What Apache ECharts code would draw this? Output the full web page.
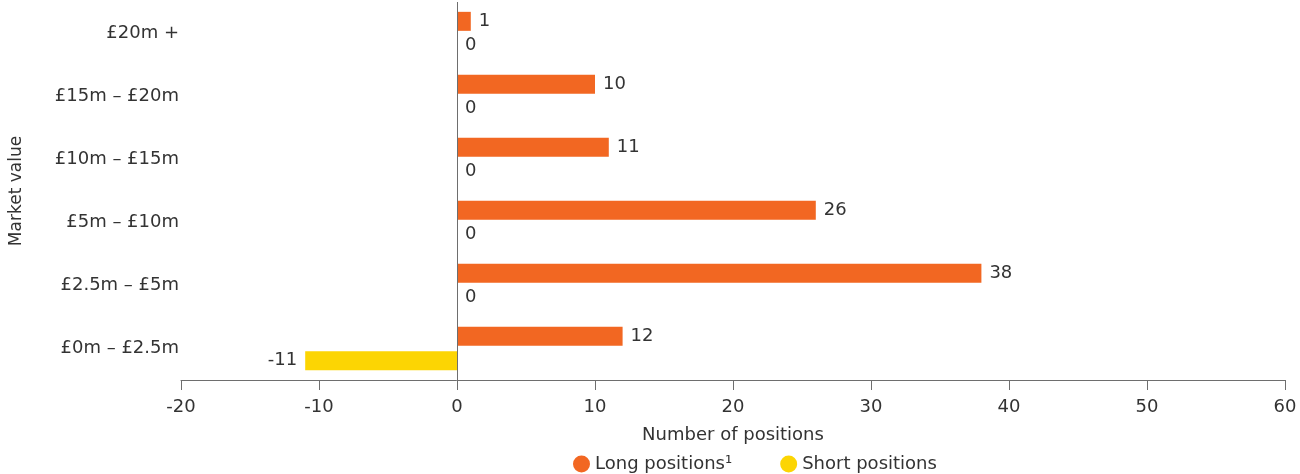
<!DOCTYPE html>
<html>
<head>
<meta charset="utf-8">
<script src="https://cdn.jsdelivr.net/npm/echarts@6/dist/echarts.min.js"></script>
<style>
  html, body { margin: 0; padding: 0; background: #fff; }
  #chart { width: 1300px; height: 474px; }
</style>
</head>
<body>
<div id="chart"></div>
<script>
// Market value bands, top to bottom
const categories = ['£20m +', '£15m – £20m', '£10m – £15m', '£5m – £10m', '£2.5m – £5m', '£0m – £2.5m'];
// Number of positions per band
const longPositions = [1, 10, 11, 26, 38, 12];
const shortPositions = [0, 0, 0, 0, 0, -11];
const seriesNames = ['Long positions¹', 'Short positions'];

const FONT = '"DejaVu Sans", "Noto Sans", sans-serif';
const TEXT = '#333333';
const AXIS = '#6e6e6e';
const FS = 18;

const chart = echarts.init(document.getElementById('chart'));

const labelStyle = { show: true, position: 'right', distance: 8, color: TEXT, fontSize: FS, fontFamily: FONT };

chart.setOption({
  animation: false,
  textStyle: { fontFamily: FONT },
  grid: { left: 181, right: 15, top: 2, bottom: 94, containLabel: false, outerBoundsMode: 'none' },
  legend: {
    top: 450,
    left: 568,
    itemGap: 48,
    icon: 'circle',
    itemWidth: 17,
    itemHeight: 17,
    textStyle: { color: TEXT, fontSize: FS, fontFamily: FONT },
    data: seriesNames
  },
  xAxis: {
    type: 'value',
    min: -20,
    max: 60,
    interval: 10,
    name: 'Number of positions',
    nameLocation: 'middle',
    nameGap: 46,
    nameTextStyle: { color: TEXT, fontSize: FS, fontFamily: FONT },
    axisLine: { show: true, onZero: false, lineStyle: { color: AXIS, width: 1 } },
    axisTick: { show: true, length: 10, lineStyle: { color: AXIS } },
    axisLabel: { color: TEXT, fontSize: FS, margin: 18, fontFamily: FONT },
    splitLine: { show: false }
  },
  yAxis: {
    type: 'category',
    inverse: true,
    data: categories,
    name: 'Market value',
    nameLocation: 'middle',
    nameGap: 156,
    nameRotate: 90,
    nameTextStyle: { color: TEXT, fontSize: 17, fontFamily: FONT },
    axisLine: { show: false },
    axisTick: { show: false },
    axisLabel: { color: TEXT, fontSize: FS, margin: 2, fontFamily: FONT }
  },
  series: [
    {
      name: seriesNames[0],
      type: 'bar',
      data: longPositions,
      barWidth: 19,
      barGap: '28%',
      itemStyle: { color: '#F26722' },
      label: labelStyle,
      markLine: {
        silent: true,
        symbol: 'none',
        label: { show: false },
        lineStyle: { color: AXIS, width: 1, type: 'solid' },
        data: [{ xAxis: 0 }]
      },
      z: 3
    },
    {
      name: seriesNames[1],
      type: 'bar',
      data: shortPositions.map(v => v < 0 ? { value: v, label: { position: 'left' } } : v),
      barWidth: 19,
      barGap: '28%',
      itemStyle: { color: '#FCD503' },
      label: labelStyle,
      z: 3
    }
  ]
});
</script>
</body>
</html>
